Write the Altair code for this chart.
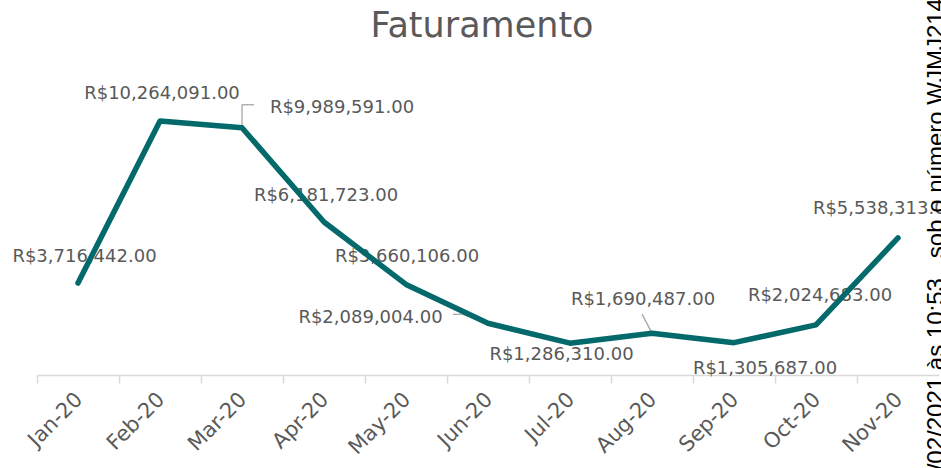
import altair as alt
import pandas as pd

# ---- data ----
months = ["Jan-20", "Feb-20", "Mar-20", "Apr-20", "May-20", "Jun-20",
          "Jul-20", "Aug-20", "Sep-20", "Oct-20", "Nov-20"]
values = [3716442, 10264091, 9989591, 6181723, 3660106, 2089004,
          1286310, 1690487, 1305687, 2024683, 5538313]
labels = ["R$" + f"{v:,.2f}" for v in values]
title_text = "Faturamento"
watermark = "04/02/2021 às 10:53 , sob o número WJMJ21400000"

# ---- label placement (style: pixel offsets of each data label centre) ----
label_dx = [6.5, 2, 100, 2, 1, -117.5, -8.5, -9, 31, 4, -13]
label_dy = [-28, -28, -21.5, -28, -28.5, -7, 10, -35, 25, -30, -30]

TEAL = "#04696a"
GREY = "#595959"
LEAD = "#a6a6a6"
FONT = "DejaVu Sans"

df = pd.DataFrame({"month": months, "value": values, "label": labels})

X = alt.X("month:N", sort=months,
          scale=alt.Scale(type="point", padding=0.5),
          axis=alt.Axis(title=None, labelAngle=-45, labelAlign="right",
                        labelBaseline="middle", labelFont=FONT,
                        labelFontSize=21, labelColor=GREY,
                        labelPadding=13, labelOverlap=False,
                        tickOffset=-41, labelOffset=42, tickSize=8,
                        tickColor="#d9d9d9", tickWidth=1.5,
                        domainColor="#d9d9d9", domainWidth=1.5))
Y = alt.Y("value:Q", scale=alt.Scale(domain=[0, 12000000]), axis=None)

base = alt.Chart(df)

line = base.mark_line(color=TEAL, strokeWidth=5.5, strokeCap="round",
                      strokeJoin="round").encode(x=X, y=Y)

text_layers = []
for m, dx, dy in zip(months, label_dx, label_dy):
    text_layers.append(
        base.transform_filter(alt.datum.month == m)
        .mark_text(font=FONT, fontSize=18, color=GREY, align="center",
                   baseline="alphabetic", dx=dx, dy=dy + 6.5)
        .encode(x=X, y=Y, text="label:N")
    )

def sel(m):
    return base.transform_filter(alt.datum.month == m)

leaders = [
    sel("Mar-20").mark_rule(color=LEAD, strokeWidth=1.3, y2Offset=-23)
    .encode(x=X, y=Y, y2="value:Q"),
    sel("Mar-20").mark_rule(color=LEAD, strokeWidth=1.3, yOffset=-23, x2Offset=12)
    .encode(x=X, x2="month:N", y=Y),
    sel("Jun-20").mark_rule(color=LEAD, strokeWidth=1.3, x2Offset=-25, y2Offset=-9)
    .encode(x=X, x2="month:N", y=Y, y2="value:Q"),
    sel("Jun-20").mark_rule(color=LEAD, strokeWidth=1.3, xOffset=-25, yOffset=-9,
                            x2Offset=-35, y2Offset=-9)
    .encode(x=X, x2="month:N", y=Y, y2="value:Q"),
    sel("Aug-20").mark_rule(color=LEAD, strokeWidth=1.3, x2Offset=-10, y2Offset=-19)
    .encode(x=X, x2="month:N", y=Y, y2="value:Q"),
]

title = alt.Chart(pd.DataFrame({"t": [title_text]})).mark_text(
    font=FONT, fontSize=35, color=GREY, align="center", baseline="alphabetic"
).encode(x=alt.value(445), y=alt.value(-41), text="t:N")

wm = alt.Chart(pd.DataFrame({"t": [watermark]})).mark_text(
    font="Liberation Sans", fontSize=24, color="#000000", align="left",
    baseline="alphabetic", angle=270
).encode(x=alt.value(907), y=alt.value(419), text="t:N")

chart = alt.layer(*text_layers, *leaders, line, title, wm).properties(
    width=902, height=297,
    autosize=alt.AutoSizeParams(type="none"),
    padding={"left": 37, "top": 78, "right": 2, "bottom": 93},
    background="white",
).configure_view(stroke=None)

chart.save("out.html", embed_options={"renderer": "svg", "actions": False})
